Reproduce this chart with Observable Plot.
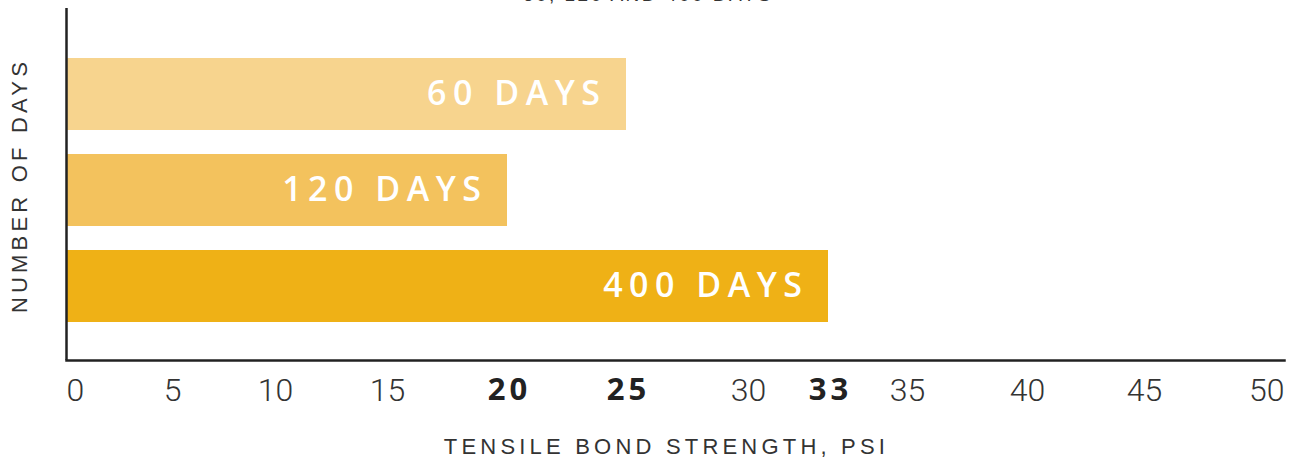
<!DOCTYPE html>
<html>
<head>
<meta charset="utf-8">
<script src="https://cdn.jsdelivr.net/npm/d3@7"></script>
<script src="https://cdn.jsdelivr.net/npm/@observablehq/plot@0.6"></script>
<style>
  html, body { margin: 0; padding: 0; background: #fff; overflow: hidden; }
  #wrap { position: relative; width: 1296px; height: 459px; }
  #subtitle { position: absolute; top: -16px; left: 0; width: 1296px; text-align: center;
    font-family: "Liberation Sans", Arial, sans-serif; font-size: 19px; letter-spacing: 2.5px; color: #333; }
  #chart { position: absolute; top: 0; left: 0; }
</style>
</head>
<body>
<div id="wrap">
  <div id="subtitle">60, 120 AND 400 DAYS</div>
  <div id="chart"></div>
</div>
<script>
const days = ["60 DAYS", "120 DAYS", "400 DAYS"];
const strength = [25, 20, 33];
const barColors = ["#F7D48E", "#F3C25D", "#EFB116"];
const tickValues = [0, 5, 10, 15, 20, 25, 30, 33, 35, 40, 45, 50];
const boldTicks = [20, 25, 33];
// the original illustration spaces its ticks unevenly: piecewise-linear x scale range
const tickPixels = [66, 172, 275, 387, 507, 626, 748, 828, 907, 1027, 1144, 1284];

const data = days.map((d, i) => ({days: d, strength: strength[i]}));
const normalTicks = tickValues.filter(t => !boldTicks.includes(t) && t !== 0 && t !== 50);

const tickFont = {fontSize: 32, fontWeight: 300, fontFamily: "Roboto, sans-serif", fill: "#333", lineAnchor: "middle"};
const titleFont = {fontSize: 22, fontFamily: "Liberation Sans, Arial, sans-serif", fill: "#333", lineAnchor: "middle"};

const chart = Plot.plot({
  width: 1296,
  height: 459,
  marginLeft: 66,
  marginRight: 12,
  marginTop: 8,
  marginBottom: 99,
  x: {type: "linear", domain: tickValues, range: tickPixels, axis: null},
  y: {type: "band", domain: days, range: [46, 334], paddingInner: 0.25, paddingOuter: 0.125, axis: null},
  color: {domain: days, range: barColors},
  style: {background: "transparent"},
  marks: [
    Plot.barX(data, {x: "strength", y: "days", fill: "days"}),
    Plot.text(data, {x: "strength", y: "days", text: "days", textAnchor: "end", dx: -20,
      fill: "white", fontSize: 34, fontWeight: 600, fontFamily: "Open Sans, sans-serif"}),
    Plot.ruleX([0], {stroke: "#222", strokeWidth: 2.5}),
    Plot.frame({anchor: "bottom", stroke: "#222", strokeWidth: 2.5}),
    Plot.text(normalTicks, {x: d => d, frameAnchor: "bottom", dy: 30, text: d => String(d), ...tickFont}),
    Plot.text([0], {x: d => d, frameAnchor: "bottom", dy: 30, text: d => String(d), textAnchor: "start", ...tickFont}),
    Plot.text([50], {x: d => d, frameAnchor: "bottom", dy: 30, text: d => String(d), textAnchor: "end", ...tickFont}),
    Plot.text(boldTicks, {x: d => d, frameAnchor: "bottom", dy: 30, text: d => String(d), dx: 2, lineAnchor: "middle",
      fontSize: 31, fontWeight: "bold", fontFamily: "Open Sans, sans-serif", fill: "#222"}),
    Plot.text(["TENSILE BOND STRENGTH, PSI"], {frameAnchor: "bottom", dx: -9, dy: 86, ...titleFont}),
    Plot.text(["NUMBER OF DAYS"], {frameAnchor: "left", textAnchor: "middle", dx: -47, dy: 1, rotate: -90, ...titleFont})
  ]
});

// letter spacing per text mark (in mark order)
const spacing = ["6.5px", null, null, null, "4px", "4.2px", "4.2px"];
chart.querySelectorAll('g[aria-label="text"]').forEach((g, i) => {
  if (spacing[i]) g.setAttribute("letter-spacing", spacing[i]);
});
document.getElementById("chart").appendChild(chart);
</script>
</body>
</html>
